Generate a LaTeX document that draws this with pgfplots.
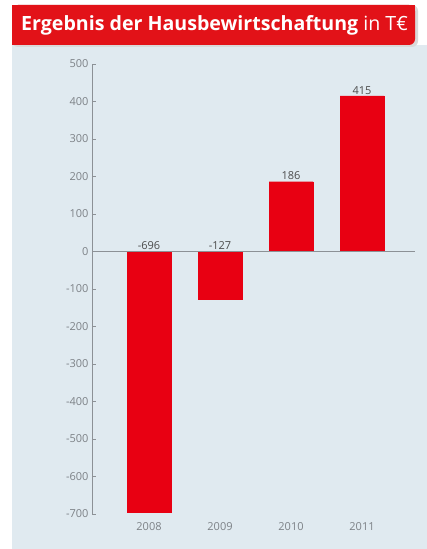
\documentclass[border=0pt]{standalone}
\usepackage{pgfplots}
\pgfplotsset{compat=1.18}
\usepackage{fontspec}
\setmainfont{Open Sans}
\definecolor{bg}{RGB}{224,234,240}
\definecolor{banner}{RGB}{226,18,24}
\definecolor{barred}{RGB}{232,0,18}
\definecolor{ticktext}{RGB}{125,130,135}
\definecolor{axisgray}{RGB}{140,145,150}
\begin{document}
\begin{tikzpicture}[x=1pt,y=1pt]
\useasboundingbox (0,0) rectangle (427,549);
\fill[white] (0,0) rectangle (427,549);
\fill[bg] (12,0) rectangle (427,504);
% banner shadow and banner
\fill[black!15,rounded corners=6pt] (12,502) -- (418,502) -- (418,544) -- (12,544) -- cycle;
\fill[banner,rounded corners=6pt] (12,504) -- (415,504) -- (415,544) -- (12,544) -- cycle;
\fill[banner] (12,504) rectangle (30,544);
\fill[banner] (12,530) rectangle (415,544);
\node[anchor=west,text=white,font=\fontsize{19.6}{22}\selectfont,inner sep=0pt] at (21,524) {\textbf{Ergebnis der Hausbewirtschaftung} in T€};
\begin{axis}[
  at={(92pt,35pt)}, anchor=south west,
  scale only axis, width=323pt, height=450pt,
  xmin=-0.803, xmax=3.746, ymin=-700, ymax=500,
  axis y line*=left, axis x line*=bottom,
  x axis line style={draw=none},
  y axis line style={axisgray, line width=0.8pt},
  ytick={-700,-600,...,500},
  xtick={0,1,2,3}, xticklabels={2008,2009,2010,2011},
  major x tick style={draw=none},
  major y tick style={axisgray, line width=0.6pt},
  major tick length=4pt, tick align=inside,
  /pgf/number format/assume math mode=true,
  /pgf/number format/set thousands separator={},
  yticklabel style={text=ticktext, font=\fontsize{11}{12}\selectfont},
  xticklabel style={text=ticktext, font=\fontsize{11}{12}\selectfont, yshift=-5pt},
  clip=false,
]
\addplot[ybar, bar width=44pt, fill=barred, draw=barred] coordinates {(0,-696) (1,-127) (2,186) (3,415)};
\draw[axisgray, line width=0.8pt] (axis cs:-0.803,0) -- (axis cs:3.746,0);
\addplot[only marks, mark=none, point meta=explicit symbolic,
  nodes near coords, nodes near coords style={text=black!70, font=\fontsize{11}{12}\selectfont, anchor=south, inner sep=1.5pt}]
  table[meta=label] {
x y label
0 0 -696
1 0 -127
2 186 186
3 415 415
};
\end{axis}
\end{tikzpicture}
\end{document}
